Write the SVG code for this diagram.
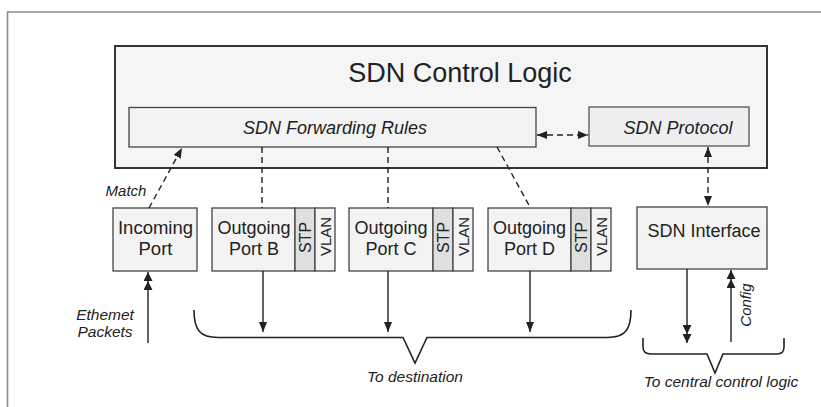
<svg xmlns="http://www.w3.org/2000/svg" width="821" height="407" viewBox="0 0 821 407">
<style>
  text { font-family: "Liberation Sans", Arial, sans-serif; fill: #222; }
  .it { font-style: italic; }
  .box { fill: #f3f3f3; stroke: #444; stroke-width: 1.3; }
  .stp { fill: #dfdfe0; stroke: #444; stroke-width: 1.3; }
  .line { stroke: #222; stroke-width: 1.4; fill: none; }
  .dash { stroke: #222; stroke-width: 1.4; fill: none; stroke-dasharray: 6 4; }
  .brace { stroke: #222; stroke-width: 1.6; fill: none; }
</style>
<defs>
  <marker id="ah" viewBox="0 0 10 8" refX="10" refY="4" markerWidth="10" markerHeight="8" markerUnits="userSpaceOnUse" orient="auto-start-reverse">
    <path d="M0,0 L10,4 L0,8 Z" fill="#222"/>
  </marker>
  <marker id="dah" viewBox="0 0 19 9" refX="19" refY="4.5" markerWidth="19" markerHeight="9" markerUnits="userSpaceOnUse" orient="auto">
    <path d="M10,0 L19,4.5 L10,9 Z M1,0 L10,4.5 L1,9 Z" fill="#222"/>
  </marker>
</defs>
<rect width="821" height="407" fill="#ffffff"/>
<path d="M7.5,407 L7.5,12 L821,12" stroke="#8a8a8a" stroke-width="1.6" fill="none"/>

<g id="control-logic">
  <rect x="115" y="46" width="652" height="122" fill="#f5f5f5" stroke="#333" stroke-width="2"/>
  <text x="460" y="82" font-size="27" text-anchor="middle">SDN Control Logic</text>
</g>
<g id="forwarding-rules">
  <rect x="129" y="107.5" width="407" height="39.5" class="box"/>
  <text x="335" y="134" font-size="18" class="it" text-anchor="middle">SDN Forwarding Rules</text>
</g>
<g id="sdn-protocol">
  <rect x="589" y="107" width="160" height="39" fill="#eeeef0" stroke="#555" stroke-width="1.3"/>
  <text x="678" y="134" font-size="18" class="it" text-anchor="middle">SDN Protocol</text>
</g>
<g id="incoming-port">
  <rect x="113" y="208" width="84" height="63" class="box"/>
  <text x="155.5" y="234" font-size="18.5" text-anchor="middle">Incoming</text>
  <text x="155.5" y="255" font-size="18.5" text-anchor="middle">Port</text>
</g>
<g id="port-b">
  <rect x="212" y="208" width="83" height="63" class="box"/>
  <rect x="295" y="208" width="20" height="63" class="stp"/>
  <rect x="315" y="208" width="20" height="63" class="box"/>
  <text x="254" y="234" font-size="18" text-anchor="middle">Outgoing</text>
  <text x="254" y="255" font-size="18" text-anchor="middle">Port B</text>
  <text transform="translate(311,237.5) rotate(-90)" font-size="16" text-anchor="middle">STP</text>
  <text transform="translate(331,236.5) rotate(-90)" font-size="15" text-anchor="middle">VLAN</text>
</g>
<g id="port-c">
  <rect x="349" y="208" width="84" height="63" class="box"/>
  <rect x="433" y="208" width="20" height="63" class="stp"/>
  <rect x="453" y="208" width="20" height="63" class="box"/>
  <text x="391" y="234" font-size="18" text-anchor="middle">Outgoing</text>
  <text x="391" y="255" font-size="18" text-anchor="middle">Port C</text>
  <text transform="translate(449,237.5) rotate(-90)" font-size="16" text-anchor="middle">STP</text>
  <text transform="translate(469,236.5) rotate(-90)" font-size="15" text-anchor="middle">VLAN</text>
</g>
<g id="port-d">
  <rect x="488" y="208" width="83" height="63" class="box"/>
  <rect x="571" y="208" width="20" height="63" class="stp"/>
  <rect x="591" y="208" width="20" height="63" class="box"/>
  <text x="529.5" y="234" font-size="18" text-anchor="middle">Outgoing</text>
  <text x="529.5" y="255" font-size="18" text-anchor="middle">Port D</text>
  <text transform="translate(587,237.5) rotate(-90)" font-size="16" text-anchor="middle">STP</text>
  <text transform="translate(607,236.5) rotate(-90)" font-size="15" text-anchor="middle">VLAN</text>
</g>
<g id="sdn-interface">
  <rect x="637" y="207" width="130" height="62" class="box"/>
  <text x="704" y="237" font-size="18" text-anchor="middle">SDN Interface</text>
</g>

<g id="connectors">
  <line x1="149" y1="208" x2="182" y2="148" class="dash" marker-end="url(#ah)"/>
  <line x1="262" y1="147" x2="262" y2="208" class="dash"/>
  <line x1="388" y1="147" x2="388" y2="208" class="dash"/>
  <line x1="497" y1="147" x2="530" y2="207" class="dash"/>
  <line x1="537" y1="135" x2="588" y2="135" class="dash" marker-start="url(#ah)" marker-end="url(#ah)"/>
  <line x1="708" y1="147" x2="708" y2="206" class="dash" marker-start="url(#ah)" marker-end="url(#ah)"/>
  <line x1="263" y1="271" x2="263" y2="332" class="line" marker-end="url(#ah)"/>
  <line x1="388" y1="271" x2="388" y2="332" class="line" marker-end="url(#ah)"/>
  <line x1="530" y1="271" x2="530" y2="332" class="line" marker-end="url(#ah)"/>
  <line x1="148" y1="343" x2="148" y2="272" class="line" marker-end="url(#dah)"/>
  <line x1="687" y1="269" x2="687" y2="343" class="line" marker-end="url(#dah)"/>
  <line x1="731" y1="342" x2="731" y2="270" class="line" marker-end="url(#dah)"/>
  <path d="M194,310 C194,330 200,337.5 218,337.5 L403,337.5 L415,363 L427,337.5 L607,337.5 C625,337.5 631,330 631,310" class="brace"/>
  <path d="M643,338 L643,347 C643,352 646,354 651,354 L707,354 L715,373 L723,354 L777,354 C781,354 784,352 784,347 L784,338" class="brace"/>
</g>

<g id="labels">
  <text x="126" y="196" font-size="15" class="it" text-anchor="middle">Match</text>
  <text x="105" y="320" font-size="15.5" class="it" text-anchor="middle">Ethemet</text>
  <text x="105" y="337" font-size="15.5" class="it" text-anchor="middle">Packets</text>
  <text x="415" y="382" font-size="15.5" class="it" text-anchor="middle">To destination</text>
  <text x="721" y="387" font-size="15.5" class="it" text-anchor="middle">To central control logic</text>
  <text transform="translate(751,305) rotate(-90)" font-size="15" class="it" text-anchor="middle">Config</text>
</g>
</svg>
